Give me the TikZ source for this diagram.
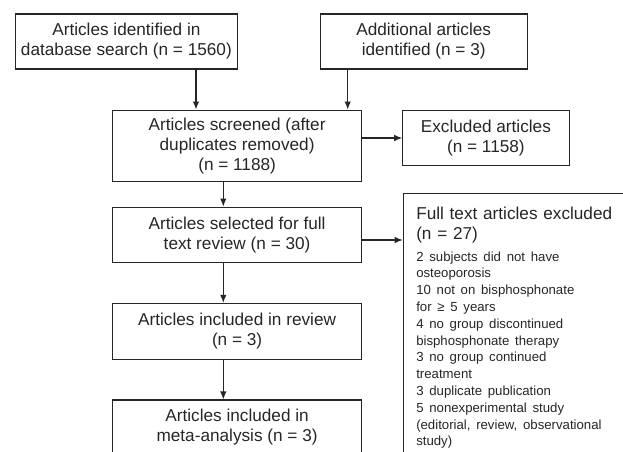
\documentclass[tikz,border=0pt]{standalone}
\usepackage{fontspec}
\setmainfont{Liberation Sans}
\usetikzlibrary{arrows.meta}
\definecolor{ink}{gray}{0.15}
\tikzstyle{stage}=[draw=ink, line width=1.1pt, text=ink, align=center, inner xsep=2pt, inner ysep=0pt, font=\fontsize{17.2}{20}\selectfont]
\tikzstyle{dropped}=[draw=ink, line width=1.1pt, text=ink, anchor=north west, text width=205pt, align=left, inner xsep=13pt, inner ysep=13pt, font=\fontsize{17.2}{20}\selectfont]
\tikzstyle{flow}=[-{Latex[length=8pt,width=6.5pt]}, draw=ink, line width=1.1pt]
\newcommand{\reasonfont}{\fontsize{13.2}{16.8}\selectfont}

\begin{document}
\begin{tikzpicture}[x=1pt, y=-1pt]
\useasboundingbox (0, 0) rectangle (623, 451);
\clip (0, 0) rectangle (623, 451);
\node[stage, minimum width=221.3pt, minimum height=55pt] at (126.4, 41.5) (db) {Articles identified in\\database search (n = 1560)};
\node[stage, minimum width=207.3pt, minimum height=55pt] at (423.7, 41.5) (extra) {Additional articles\\identified (n = 3)};
\node[stage, minimum width=249.2pt, minimum height=71.7pt] at (237.1, 145.9) (screen) {Articles screened (after\\duplicates removed)\\(n = 1188)};
\node[stage, minimum width=166.3pt, minimum height=55pt] at (485.9, 138.2) (removed) {Excluded articles\\(n = 1158)};
\node[stage, minimum width=249.2pt, minimum height=55.3pt] at (237.1, 234.7) (select) {Articles selected for full\\text review (n = 30)};
\node[stage, minimum width=249.2pt, minimum height=55.7pt] at (237.1, 331.2) (review) {Articles included in review\\(n = 3)};
\node[stage, minimum width=249.2pt, minimum height=55pt] at (237.1, 427.5) (meta) {Articles included in\\meta-analysis (n = 3)};
\node[dropped] at (402.7, 193.3) (fulltext) {Full text articles excluded\\(n = 27)\par\vspace{5pt}%
\reasonfont 2 subjects did not have\\osteoporosis\\10 not on bisphosphonate\\for ≥ 5 years\\4 no group discontinued\\bisphosphonate therapy\\3 no group continued\\treatment\\3 duplicate publication\\5 nonexperimental study\\(editorial, review, observational\\study)\par\rule{0pt}{40pt}};
\draw[flow] ([xshift=69.6pt]db.south) -- ([xshift=69.6pt]db.south |- screen.north);
\draw[flow] ([xshift=-76pt]extra.south) -- ([xshift=-76pt]extra.south |- screen.north);
\draw[flow] ([yshift=7.9pt]screen.east) -- ([yshift=7.9pt]screen.east -| removed.west);
\draw[flow] ([xshift=-13.8pt]screen.south) -- ([xshift=-13.8pt]screen.south |- select.north);
\draw[flow] ([yshift=-5.3pt]select.east) -- ([yshift=-5.3pt]select.east -| fulltext.west);
\draw[flow] ([xshift=-13.8pt]select.south) -- ([xshift=-13.8pt]select.south |- review.north);
\draw[flow] ([xshift=-13.8pt]review.south) -- ([xshift=-13.8pt]review.south |- meta.north);
\end{tikzpicture}
\end{document}
